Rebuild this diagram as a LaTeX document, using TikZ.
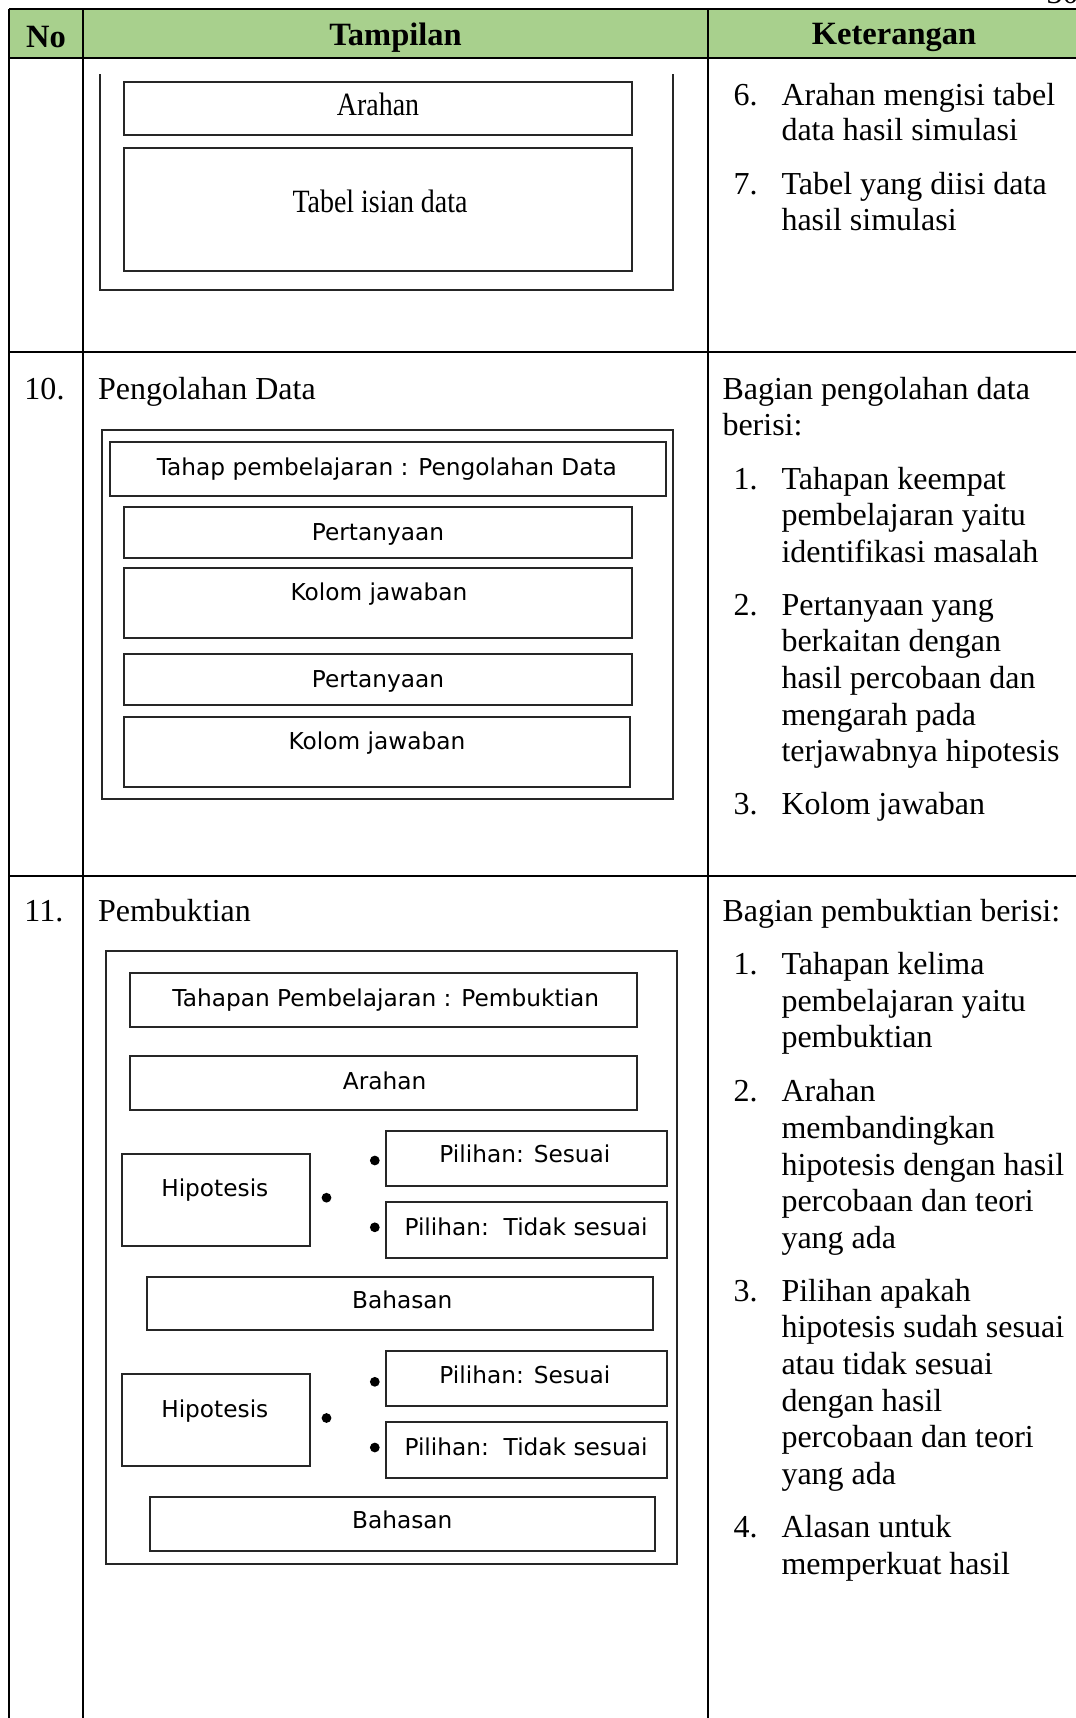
\documentclass[tikz,border=0pt]{standalone}
\usepackage{fontspec}
\setmainfont{Liberation Serif}
\newfontfamily\boxsans{DejaVu Sans}
\definecolor{headgreen}{HTML}{A8D08D}
\begin{document}
\begin{tikzpicture}[x=0.4pt,y=-0.4pt,
  grid/.style={line width=0.8pt,black},
  wbox/.style={draw=black!85,line width=0.8pt},
  head/.style={font=\bfseries\fontsize{13}{15}\selectfont,inner sep=0pt,yshift=-1.3pt},
  body/.style={font=\fontsize{12.8}{15}\selectfont,inner sep=0pt,yshift=-1.8pt},
  serifbox/.style={font=\fontsize{13}{15}\selectfont,inner sep=0pt,anchor=mid,yshift=-2pt},
  sans/.style={font=\boxsans\fontsize{9.3}{11}\selectfont,inner sep=0pt,anchor=mid,yshift=-1.3pt},
  bullet/.style={circle,fill=black,inner sep=0pt,minimum size=3.9pt}]

\useasboundingbox (0,0) rectangle (1075,1718);

% page number, mostly above the page edge
\node[font=\fontsize{12.8}{15}\selectfont,inner sep=0pt,anchor=base west] (pageno) at (1046,4) {30};

% ---------- table grid ----------
\fill[headgreen] (9,9) rectangle (1080,58);
\draw[grid] (9,9) -- (1080,9);
\draw[grid] (9,58) -- (1080,58);
\draw[grid] (9,352) -- (1080,352);
\draw[grid] (9,876) -- (1080,876);
\draw[grid] (9,9) -- (9,1718);
\draw[grid] (83,9) -- (83,1718);
\draw[grid] (708,9) -- (708,1718);

\node[head] (hNo) at (46,34) {No};
\node[head] (hTam) at (395.5,34) {Tampilan};
\node[head] (hKet) at (894,34) {Keterangan};

% box macro: name, x1, y1, x2, y2
\newcommand\panel[5]{\draw[wbox] (#2,#3) coordinate (#1-nw) rectangle (#4,#5) coordinate (#1-se);}

% list macro: name, number, first line y, lines
\newcommand\ketitem[4]{%
  \node[body,anchor=mid west] (#1-n) at (733,#3) {#2};
  \foreach \ln [count=\i from 0] in {#4}
    \node[body,anchor=mid west] (#1-\i) at (781,{#3+\i*36.7}) {\ln};
}

% ---------- row: continuation ----------
\draw[wbox] (99.7,74.5) -- (99.7,290.4) -- (672.8,290.4) -- (672.8,74.5);
\panel{aA}{123.8}{82.2}{632.3}{134.8}
\panel{aT}{123.8}{147.9}{632.3}{270.7}
\node[serifbox] (aAt) at (378,105) {\scalebox{0.86}[1]{Arahan}};
\node[serifbox] (aTt) at (380,201.6) {\scalebox{0.86}[1]{Tabel isian data}};

\node[body,anchor=mid west] (k6n) at (733,95.3) {6.};
\node[body,anchor=mid west] (k6a) at (781,95.3) {Arahan mengisi tabel};
\node[body,anchor=mid west] (k6b) at (781,130.4) {data hasil simulasi};
\node[body,anchor=mid west] (k7n) at (733,184) {7.};
\node[body,anchor=mid west] (k7a) at (781,184) {Tabel yang diisi data};
\node[body,anchor=mid west] (k7b) at (781,220.3) {hasil simulasi};

% ---------- row 10 ----------
\node[body,anchor=mid west] (n10) at (24,389) {10.};
\node[body,anchor=mid west] (t10) at (97.5,389) {Pengolahan Data};
\panel{bF}{101.9}{429.6}{672.8}{798.8}
\panel{bH}{109.6}{441.6}{666.2}{496.4}
\panel{bP1}{123.8}{507.4}{632.3}{557.8}
\panel{bK1}{123.8}{567.6}{632.3}{637.8}
\panel{bP2}{123.8}{654.2}{632.3}{704.6}
\panel{bK2}{123.8}{716.7}{630.1}{786.8}
\node[sans] (bHt) at (386.8,466.8) {Tahap pembelajaran : Pengolahan Data};
\node[sans] (bP1t) at (378,531.5) {Pertanyaan};
\node[sans] (bK1t) at (379,591.7) {Kolom jawaban};
\node[sans] (bP2t) at (378,678.3) {Pertanyaan};
\node[sans] (bK2t) at (377,740.8) {Kolom jawaban};

\node[body,anchor=mid west] (r2h1) at (722,389) {Bagian pengolahan data};
\node[body,anchor=mid west] (r2h2) at (722,425.2) {berisi:};
\ketitem{r2i1}{1.}{478.9}{Tahapan keempat,pembelajaran yaitu,identifikasi masalah}
\ketitem{r2i2}{2.}{604.9}{Pertanyaan yang,berkaitan dengan,hasil percobaan dan,mengarah pada,terjawabnya hipotesis}
\ketitem{r2i3}{3.}{804.3}{Kolom jawaban}

% ---------- row 11 ----------
\node[body,anchor=mid west] (n11) at (24,911.7) {11.};
\node[body,anchor=mid west] (t11) at (97.5,911.7) {Pembuktian};
\panel{cF}{106.3}{951.2}{677.2}{1563.7}
\panel{cH}{130.4}{973.1}{636.7}{1026.8}
\panel{cA}{130.4}{1056.4}{636.7}{1110.1}
\node[sans] (cHt) at (385.7,997.2) {Tahapan Pembelajaran : Pembuktian};
\node[sans] (cAt) at (384.6,1080.5) {Arahan};

% first hypothesis group
\panel{cY1}{121.6}{1153.9}{310.1}{1245.9}
\panel{cS1}{385.7}{1130.9}{667.3}{1185.7}
\panel{cN1}{385.7}{1202.1}{667.3}{1258}
\panel{cB1}{146.8}{1276.6}{653.1}{1330.3}
\node[sans] (cY1t) at (214.8,1187.9) {Hipotesis};
\node[sans] (cS1t) at (524.9,1153.9) {Pilihan: Sesuai};
\node[sans] (cN1t) at (526,1226.2) {Pilihan:\ \ Tidak sesuai};
\node[sans] (cB1t) at (402.2,1299.6) {Bahasan};
\node[bullet] (cD1m) at (326.5,1197.7) {};
\node[bullet] (cD1a) at (374.8,1160.5) {};
\node[bullet] (cD1b) at (374.8,1227.3) {};

% second hypothesis group
\panel{cY2}{121.6}{1374.1}{310.1}{1466.2}
\panel{cS2}{385.7}{1351.1}{667.3}{1406}
\panel{cN2}{385.7}{1422.4}{667.3}{1478.2}
\panel{cB2}{150.1}{1496.9}{655.3}{1550.6}
\node[sans] (cY2t) at (214.8,1408.1) {Hipotesis};
\node[sans] (cS2t) at (524.9,1374.1) {Pilihan: Sesuai};
\node[sans] (cN2t) at (526,1446.5) {Pilihan:\ \ Tidak sesuai};
\node[sans] (cB2t) at (402.2,1519.9) {Bahasan};
\node[bullet] (cD2m) at (326.5,1418) {};
\node[bullet] (cD2a) at (374.8,1381.8) {};
\node[bullet] (cD2b) at (374.8,1447.5) {};

\node[body,anchor=mid west] (r3h) at (722,911.7) {Bagian pembuktian berisi:};
\ketitem{r3i1}{1.}{964.3}{Tahapan kelima,pembelajaran yaitu,pembuktian}
\ketitem{r3i2}{2.}{1091.4}{Arahan,membandingkan,hipotesis dengan hasil,percobaan dan teori,yang ada}
\ketitem{r3i3}{3.}{1290.9}{Pilihan apakah,hipotesis sudah sesuai,atau tidak sesuai,dengan hasil,percobaan dan teori,yang ada}
\ketitem{r3i4}{4.}{1527.5}{Alasan untuk,memperkuat hasil}

\end{tikzpicture}
\end{document}
